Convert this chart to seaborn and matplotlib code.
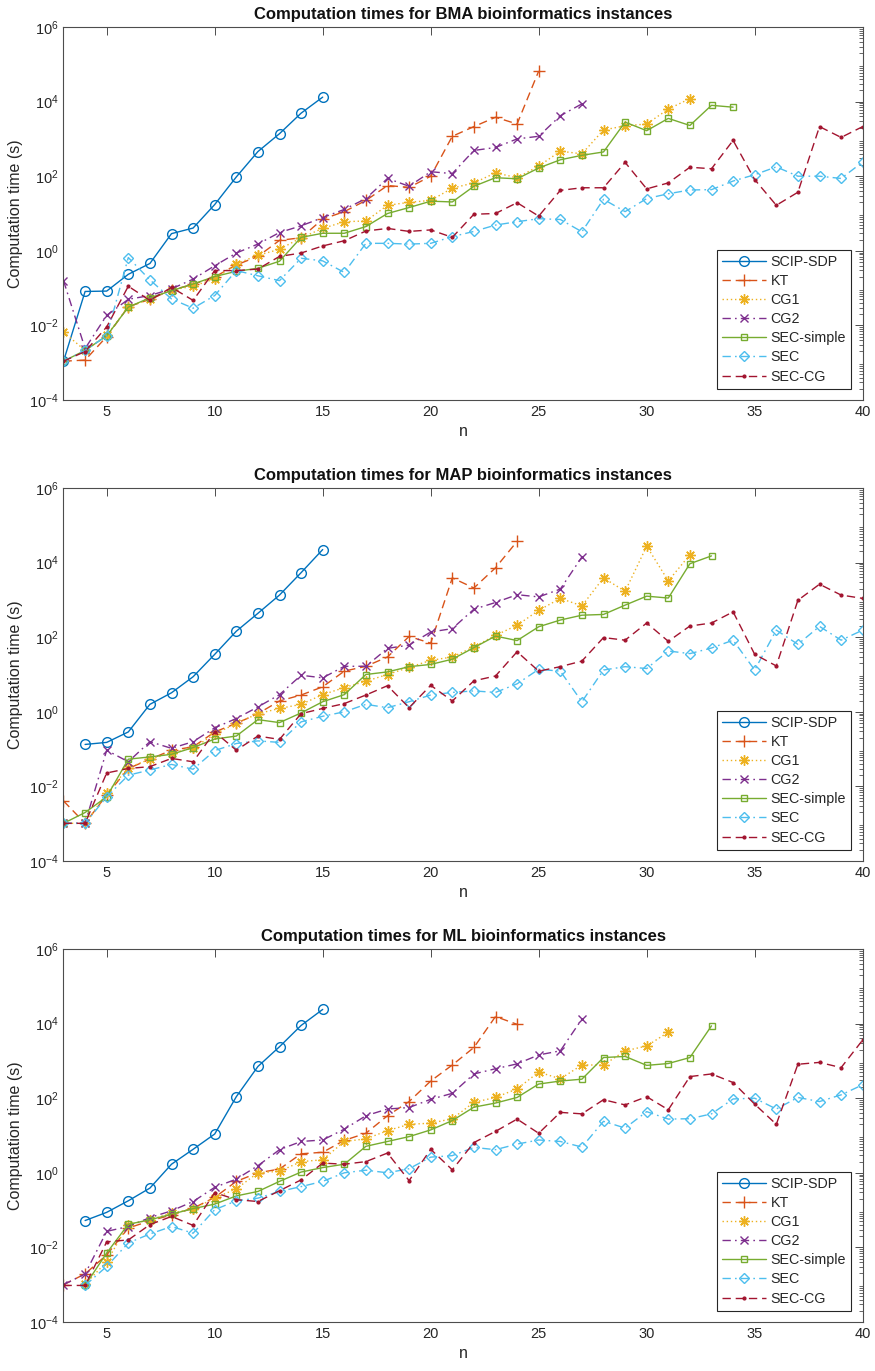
import numpy as np
import pandas as pd
import matplotlib
matplotlib.use("Agg")
import matplotlib.pyplot as plt
import seaborn as sns
from matplotlib.ticker import LogLocator, NullFormatter, FixedLocator

# ---------------- data (log10 of computation time in seconds) ----------------
series_names = ["SCIP-SDP", "KT", "CG1", "CG2", "SEC-simple", "SEC", "SEC-CG"]
panel_titles = ["Computation times for BMA bioinformatics instances",
                "Computation times for MAP bioinformatics instances",
                "Computation times for ML bioinformatics instances"]
x_ticks = [5, 10, 15, 20, 25, 30, 35, 40]
y_ticks = [1e-4, 1e-2, 1e0, 1e2, 1e4, 1e6]

# first n of each series, per panel
bma_start = [3, 3, 3, 3, 3, 3, 3]
map_start = [4, 3, 3, 3, 3, 3, 3]
ml_start = [4, 3, 4, 3, 4, 4, 3]

bma_scip = [-2.96, -1.09, -1.08, -0.63, -0.34, 0.46, 0.61, 1.24, 1.98, 2.66, 3.14, 3.69, 4.12]
bma_kt = [-2.96, -2.93, -2.3, -1.5, -1.3, -1.05, -0.9, -0.7, -0.38, -0.15,
          0.28, 0.35, 0.85, 1.05, 1.35, 1.75, 1.7, 2.0, 3.07, 3.33, 3.58, 3.40, 4.82]
bma_cg1 = [-2.18, -2.67, -2.27, -1.5, -1.3, -1.05, -0.95, -0.75, -0.35, -0.12,
           0.04, 0.35, 0.6, 0.78, 0.8, 1.22, 1.3, 1.35, 1.68, 1.82,
           2.09, 1.96, 2.27, 2.67, 2.6, 3.24, 3.35, 3.40, 3.80, 4.08]
bma_cg2 = [-0.8, -2.62, -1.73, -1.3, -1.2, -1.02, -0.76, -0.4, -0.06, 0.18,
           0.49, 0.67, 0.89, 1.11, 1.40, 1.94, 1.73, 2.12, 2.07, 2.69,
           2.77, 3.0, 3.07, 3.62, 3.94]
bma_secs = [-2.96, -2.67, -2.28, -1.51, -1.26, -1.07, -0.89, -0.69, -0.55, -0.47,
            -0.28, 0.36, 0.47, 0.47, 0.65, 1.0, 1.16, 1.33, 1.31, 1.73,
            1.96, 1.93, 2.22, 2.44, 2.56, 2.65, 3.45, 3.22, 3.55, 3.36,
            3.90, 3.85]
bma_sec = [-2.96, -2.67, -2.28, -0.18, -0.78, -1.29, -1.54, -1.2, -0.53, -0.67,
           -0.8, -0.2, -0.27, -0.58, 0.2, 0.2, 0.18, 0.2, 0.38, 0.52,
           0.69, 0.78, 0.86, 0.84, 0.51, 1.38, 1.05, 1.40, 1.53, 1.63,
           1.64, 1.87, 2.04, 2.25, 2.0, 2.0, 1.94, 2.38]
bma_seccg = [-2.96, -2.7, -2.04, -0.95, -1.33, -0.98, -1.33, -0.53, -0.53, -0.49,
             -0.15, -0.06, 0.13, 0.27, 0.53, 0.6, 0.52, 0.56, 0.36, 0.98,
             1.0, 1.29, 0.93, 1.62, 1.69, 1.69, 2.37, 1.66, 1.82, 2.24,
             2.20, 2.96, 1.91, 1.22, 1.57, 3.33, 3.04, 3.33]

map_scip = [-0.875, -0.82, -0.54, 0.2, 0.51, 0.94, 1.54, 2.16, 2.64, 3.13, 3.73, 4.35]
map_kt = [-2.39, -2.99, -2.23, -1.52, -1.27, -1.03, -0.94, -0.54, -0.31, -0.05,
          0.29, 0.45, 0.67, 1.09, 1.22, 1.47, 2.02, 1.84, 3.59, 3.32, 3.86, 4.57]
map_cg1 = [-2.99, -2.99, -2.19, -1.5, -1.27, -1.1, -0.97, -0.6, -0.31, -0.05,
           0.09, 0.2, 0.46, 0.65, 0.82, 1.0, 1.19, 1.38, 1.47, 1.74,
           2.05, 2.32, 2.72, 3.04, 2.84, 3.59, 3.23, 4.44, 3.51, 4.21]
map_cg2 = [-2.99, -2.99, -1.03, -1.34, -0.8, -0.98, -0.8, -0.43, -0.18, 0.13,
           0.46, 0.98, 0.91, 1.22, 1.22, 1.70, 1.79, 2.14, 2.23, 2.75,
           2.93, 3.14, 3.08, 3.29, 4.15]
map_secs = [-2.99, -2.70, -2.28, -1.27, -1.21, -1.14, -0.96, -0.73, -0.65, -0.21,
            -0.29, -0.03, 0.27, 0.46, 1.0, 1.07, 1.21, 1.27, 1.41, 1.72,
            2.03, 1.91, 2.28, 2.46, 2.59, 2.61, 2.86, 3.10, 3.05, 3.97,
            4.18]
map_sec = [-2.99, -2.99, -2.28, -1.70, -1.56, -1.41, -1.54, -1.04, -0.85, -0.78,
           -0.82, -0.27, -0.12, 0.0, 0.2, 0.11, 0.27, 0.45, 0.52, 0.56,
           0.52, 0.75, 1.14, 1.09, 0.27, 1.12, 1.21, 1.16, 1.63, 1.56,
           1.71, 1.92, 1.12, 2.19, 1.81, 2.29, 1.92, 2.19]
map_seccg = [-2.99, -2.99, -1.64, -1.52, -1.47, -1.25, -1.34, -0.54, -1.03, -0.65,
             -0.74, -0.05, 0.09, 0.22, 0.45, 0.70, 0.11, 0.71, 0.29, 0.83,
             0.96, 1.61, 1.09, 1.21, 1.36, 1.99, 1.92, 2.38, 1.89, 2.30,
             2.38, 2.68, 1.54, 1.23, 2.99, 3.42, 3.13, 3.04]

ml_scip = [-1.28, -1.06, -0.75, -0.41, 0.23, 0.63, 1.04, 2.04, 2.85, 3.38, 3.95, 4.38]
ml_kt = [-3.0, -2.71, -2.2, -1.48, -1.29, -1.13, -0.95, -0.66, -0.23, 0.0,
         0.10, 0.51, 0.55, 0.87, 1.06, 1.53, 1.91, 2.46, 2.89, 3.36, 4.19, 3.98]
ml_cg1 = [-2.99, -2.38, -1.39, -1.26, -1.08, -0.97, -0.68, -0.43, 0.0, 0.04,
          0.3, 0.35, 0.84, 0.91, 1.13, 1.30, 1.33, 1.45, 1.89, 2.02,
          2.25, 2.70, 2.52, 2.89, 2.89, 3.27, 3.40, 3.77]
ml_cg2 = [-3.0, -2.71, -1.57, -1.44, -1.20, -1.02, -0.77, -0.39, -0.17, 0.19,
          0.62, 0.84, 0.88, 1.17, 1.53, 1.71, 1.75, 1.97, 2.13, 2.65,
          2.79, 2.92, 3.16, 3.27, 4.12]
ml_secs = [-3.02, -2.15, -1.38, -1.26, -1.11, -0.96, -0.84, -0.62, -0.50, -0.23,
           0.02, 0.14, 0.23, 0.71, 0.84, 0.97, 1.15, 1.40, 1.76, 1.87,
           2.02, 2.38, 2.46, 2.51, 3.09, 3.12, 2.88, 2.93, 3.09, 3.94]
ml_sec = [-3.02, -2.51, -1.88, -1.64, -1.44, -1.62, -0.99, -0.75, -0.68, -0.5,
          -0.37, -0.23, 0.0, 0.07, 0.0, 0.11, 0.42, 0.46, 0.68, 0.62,
          0.77, 0.88, 0.84, 0.69, 1.38, 1.20, 1.64, 1.44, 1.45, 1.58,
          1.98, 2.0, 1.71, 2.02, 1.91, 2.09, 2.36]
ml_seccg = [-3.02, -3.02, -1.85, -1.80, -1.39, -1.17, -1.41, -0.53, -0.72, -0.77,
            -0.48, -0.19, 0.26, 0.23, 0.30, 0.53, -0.21, 0.63, 0.08, 0.81,
            1.11, 1.44, 1.06, 1.62, 1.58, 1.96, 1.82, 2.04, 1.69, 2.58,
            2.65, 2.42, 1.84, 1.30, 2.91, 2.96, 2.82, 3.56]

panels = [
    (bma_start, [bma_scip, bma_kt, bma_cg1, bma_cg2, bma_secs, bma_sec, bma_seccg]),
    (map_start, [map_scip, map_kt, map_cg1, map_cg2, map_secs, map_sec, map_seccg]),
    (ml_start, [ml_scip, ml_kt, ml_cg1, ml_cg2, ml_secs, ml_sec, ml_seccg]),
]

# ---------------- styles ----------------
colors = ["#0072BD", "#D95319", "#EDB120", "#7E2F8E", "#77AC30", "#4DBEEE", "#A2142F"]
markers = ["o", "+", (8, 2, 0), "x", "s", "D", "."]
msizes = [7, 8, 7.5, 5.5, 5, 5, 4]
lstyles = ["-", (0, (6, 3.5)), (0, (1, 2)), (0, (6, 3, 1.2, 3)), "-", (0, (6, 3, 1.2, 3)), (0, (6, 3.5))]

sns.set_style("white")
plt.rcParams['font.family'] = ['Liberation Sans', 'DejaVu Sans']
plt.rcParams['mathtext.fontset'] = 'custom'
plt.rcParams['mathtext.rm'] = 'Liberation Sans'
plt.rcParams['mathtext.it'] = 'Liberation Sans'

W, H = 875, 1371
fig = plt.figure(figsize=(W / 100, H / 100), dpi=100)
axes_px = [(27, 400), (488, 861), (949, 1322)]
left_px, right_px = 63.5, 862.7
axis_col = "#4d4d4d"

for pi, ((starts, vals), (top, bot)) in enumerate(zip(panels, axes_px)):
    ax = fig.add_axes([left_px / W, 1 - bot / H, (right_px - left_px) / W, (bot - top) / H])
    rows = []
    for name, st, v in zip(series_names, starts, vals):
        for k, lv in enumerate(v):
            rows.append((name, st + k, 10.0 ** lv))
    df = pd.DataFrame(rows, columns=["method", "n", "time"])
    for i, name in enumerate(series_names):
        sub = df[df["method"] == name]
        mfc = colors[i] if markers[i] == "." else "none"
        sns.lineplot(data=sub, x="n", y="time", ax=ax, color=colors[i], marker=markers[i],
                     linestyle=lstyles[i], linewidth=1.0, markersize=msizes[i],
                     markerfacecolor=mfc, markeredgecolor=colors[i], markeredgewidth=1.0,
                     label=name, errorbar=None, sort=True)
    ax.set_yscale("log")
    ax.set_ylim(1e-4, 1e6)
    ax.set_xlim(3, 40)
    ax.yaxis.set_major_locator(FixedLocator(y_ticks))
    ax.yaxis.set_minor_locator(LogLocator(base=10, subs=np.arange(2, 10) * 1.0, numticks=100))
    ax.yaxis.set_minor_formatter(NullFormatter())
    ax.set_xticks(x_ticks)
    ax.tick_params(which="both", direction="in", top=True, right=True,
                   colors=axis_col, labelcolor="#262626", labelsize=10.5)
    ax.tick_params(which="major", length=6, width=0.7)
    ax.tick_params(which="minor", length=3, width=0.6)
    for sp in ax.spines.values():
        sp.set_color(axis_col)
        sp.set_linewidth(0.8)
    ax.set_title(panel_titles[pi], fontsize=12, fontweight="bold", pad=6, color="#111111")
    ax.set_xlabel("n", fontsize=11.5, color="#262626", labelpad=4)
    ax.set_ylabel("Computation time (s)", fontsize=11.5, color="#262626", labelpad=4)
    leg = ax.legend(loc="lower right", frameon=True, fancybox=False, fontsize=10.3,
                    handlelength=3.1, labelspacing=0.36, borderaxespad=0.8,
                    handletextpad=0.3, borderpad=0.35, framealpha=1)
    leg.get_frame().set_edgecolor("#262626")
    leg.get_frame().set_linewidth(0.8)

fig.savefig("out.png", dpi=100)
